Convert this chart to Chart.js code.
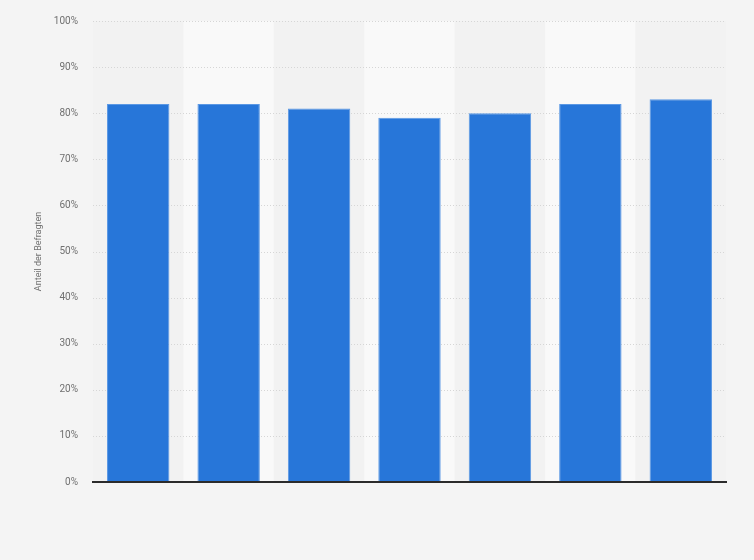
<!DOCTYPE html>
<html>
<head>
<meta charset="utf-8">
<script src="https://cdn.jsdelivr.net/npm/chart.js@4"></script>
<style>
  html, body { margin: 0; padding: 0; background: #f4f4f4; }
  #wrap { width: 754px; height: 560px; }
</style>
</head>
<body>
<div id="wrap"><canvas id="chart"></canvas></div>
<script>
// categories have no visible labels in the picture
const categories = ['', '', '', '', '', '', ''];
const shares = [82, 82, 81, 79, 80, 82, 83];
const yTicks = [0, 10, 20, 30, 40, 50, 60, 70, 80, 90, 100];

// alternating column bands behind the bars
const bandPlugin = {
    id: 'bands',
    beforeDatasetsDraw(chart) {
        const { ctx, chartArea, scales } = chart;
        const x = scales.x;
        const step = (chartArea.right - chartArea.left) / categories.length;
        ctx.save();
        categories.forEach((c, i) => {
            const cx = x.getPixelForValue(i);
            ctx.fillStyle = i % 2 === 1 ? '#f9f9f9' : '#f2f2f2';
            ctx.fillRect(cx - step / 2, chartArea.top, step, chartArea.bottom - chartArea.top);
        });
        ctx.restore();
    }
};

// dotted grid drawn over the bands
const gridPlugin = {
    id: 'gridOver',
    beforeDatasetsDraw(chart) {
        const { ctx, chartArea, scales } = chart;
        ctx.save();
        ctx.strokeStyle = '#d6d6d6';
        ctx.lineWidth = 1;
        ctx.setLineDash([1, 2]);
        yTicks.forEach(v => {
            if (v === 0) return;
            const y = Math.round(scales.y.getPixelForValue(v)) + 0.5;
            ctx.beginPath();
            ctx.moveTo(chartArea.left, y);
            ctx.lineTo(chartArea.right, y);
            ctx.stroke();
        });
        ctx.restore();
    }
};

new Chart(document.getElementById('chart'), {
    type: 'bar',
    data: {
        labels: categories,
        datasets: [{
            label: 'Anteil der Befragten',
            data: shares,
            backgroundColor: '#2776d9',
            borderColor: '#5b98e4',
            borderWidth: 1,
            categoryPercentage: 0.69,
            barPercentage: 1
        }]
    },
    options: {
        responsive: true,
        maintainAspectRatio: false,
        animation: false,
        layout: { padding: { top: 15, right: 28, bottom: 78, left: 33 } },
        plugins: {
            legend: { display: false },
            tooltip: { enabled: false }
        },
        scales: {
            x: {
                ticks: { display: false },
                grid: { display: false, drawTicks: false },
                border: { display: true, color: '#2b2b2b', width: 2, z: 1 }
            },
            y: {
                min: 0,
                max: 100,
                afterBuildTicks(axis) { axis.ticks = yTicks.map(v => ({ value: v })); },
                afterFit(axis) { axis.width = 60; },
                ticks: {
                    stepSize: 10,
                    padding: 15,
                    color: '#707070',
                    font: { family: 'Roboto, Arial, sans-serif', size: 10 },
                    callback: v => v + '%'
                },
                grid: { display: false, drawTicks: false },
                border: { display: false },
                title: {
                    display: true,
                    text: 'Anteil der Befragten',
                    color: '#707070',
                    padding: 0,
                    font: { family: 'Roboto, Arial, sans-serif', size: 9 }
                }
            }
        }
    },
    plugins: [bandPlugin, gridPlugin]
});
</script>
</body>
</html>
